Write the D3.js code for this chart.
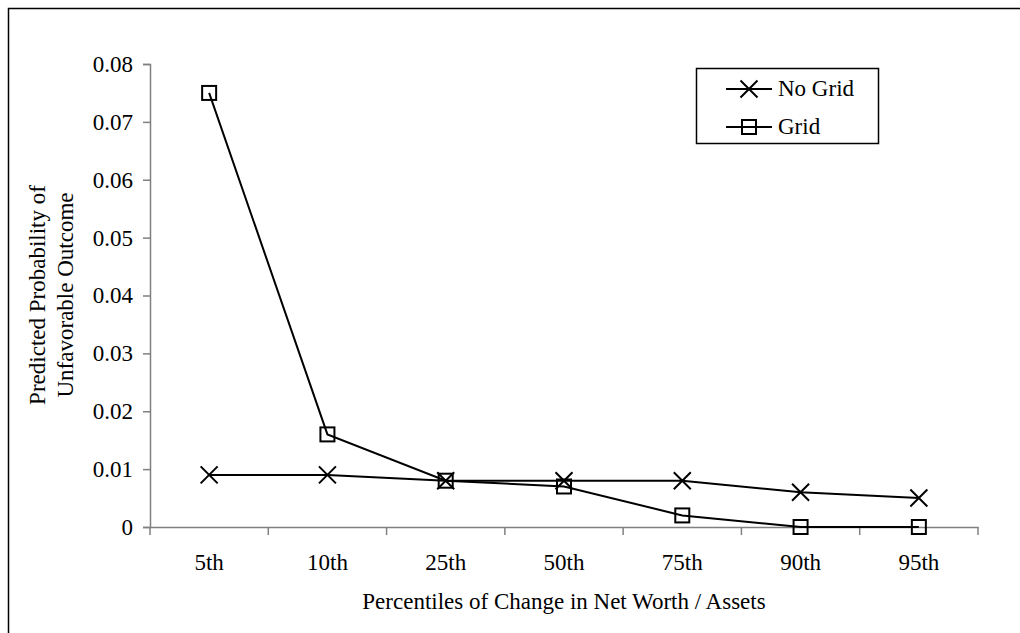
<!DOCTYPE html>
<html><head><meta charset="utf-8">
<script src="https://cdn.jsdelivr.net/npm/d3@7"></script>
<style>
html,body{margin:0;padding:0;background:#fff;}
svg{display:block;}
svg text{font-family:"Liberation Serif","Times New Roman",serif !important;}
</style></head>
<body>
<svg id="chart" width="1020" height="633"></svg>
<script>
const categories = ["5th","10th","25th","50th","75th","90th","95th"];
const noGrid = [0.009,0.009,0.008,0.008,0.008,0.006,0.005];
const grid = [0.075,0.016,0.008,0.007,0.002,0,0];
const yTicks = [0,0.01,0.02,0.03,0.04,0.05,0.06,0.07,0.08];
const seriesNames = ["No Grid","Grid"];

(function(){
const svg = d3.select("#chart");
const pLeft=150, pRight=978, pTop=64, pBottom=527;
const fs = 23;
const FF = "Liberation Serif";

// outer border (top and left visible)
svg.append("rect").attr("x",8.5).attr("y",8.5).attr("width",1100).attr("height",1100)
  .attr("fill","none").attr("stroke","#000").attr("stroke-width",1.5);

const x = d3.scaleBand().domain(categories).range([pLeft,pRight]).padding(0);
const y = d3.scaleLinear().domain([0,0.08]).range([pBottom,pTop]);

const axisColor="#808080";
// y axis
const ya = svg.append("g").attr("transform",`translate(${pLeft},0)`)
  .call(d3.axisLeft(y).tickValues(yTicks).tickSize(7).tickPadding(10)
    .tickFormat(d=> d===0 ? "0" : d3.format(".2f")(d)));
ya.select(".domain").attr("stroke",axisColor).attr("stroke-width",1.5);
ya.selectAll(".tick line").attr("stroke",axisColor).attr("stroke-width",1.5);
ya.selectAll("text").attr("font-family",FF).attr("font-size",fs).attr("fill","#000");

// x axis
const xa = svg.append("g").attr("transform",`translate(0,${pBottom})`)
  .call(d3.axisBottom(x).tickSize(0).tickPadding(27));
xa.select(".domain").attr("stroke",axisColor).attr("stroke-width",1.5);
xa.selectAll("text").attr("font-family",FF).attr("font-size",fs).attr("fill","#000");
// boundary ticks
const bounds = categories.map(c=>x(c)).concat([x(categories[categories.length-1])+x.bandwidth()]);
xa.selectAll(".btick").data(bounds).enter().append("line")
  .attr("x1",d=>d).attr("x2",d=>d).attr("y1",0).attr("y2",8)
  .attr("stroke",axisColor).attr("stroke-width",1.5);

const cx = c => x(c)+x.bandwidth()/2;
const line = d3.line().x((d,i)=>cx(categories[i])).y(d=>y(d));

function drawX(g, px, py, s){
  g.append("path").attr("d",`M${px-s},${py-s}L${px+s},${py+s}M${px-s},${py+s}L${px+s},${py-s}`)
   .attr("stroke","#000").attr("stroke-width",2).attr("fill","none");
}
function drawSq(g, px, py, s){
  g.append("rect").attr("x",px-s).attr("y",py-s).attr("width",2*s).attr("height",2*s)
   .attr("fill","none").attr("stroke","#000").attr("stroke-width",2);
}

// series lines
const sg = svg.append("g");
sg.append("path").datum(noGrid).attr("d",line).attr("fill","none").attr("stroke","#000").attr("stroke-width",2);
sg.append("path").datum(grid).attr("d",line).attr("fill","none").attr("stroke","#000").attr("stroke-width",2);
noGrid.forEach((v,i)=>drawX(sg,cx(categories[i]),y(v),8.5));
grid.forEach((v,i)=>drawSq(sg,cx(categories[i]),y(v),7));

// axis titles
svg.append("text").attr("x",564).attr("y",609).attr("text-anchor","middle")
  .attr("font-family",FF).attr("font-size",fs).text("Percentiles of Change in Net Worth / Assets");
const yt = svg.append("text").attr("transform","translate(45,295) rotate(-90)")
  .attr("text-anchor","middle").attr("font-family",FF).attr("font-size",fs);
yt.append("tspan").attr("x",0).attr("y",0).text("Predicted Probability of");
yt.append("tspan").attr("x",0).attr("y",28).text("Unfavorable Outcome");

// legend
const lg = svg.append("g");
lg.append("rect").attr("x",696.5).attr("y",68.5).attr("width",182).attr("height",75)
  .attr("fill","#fff").attr("stroke","#000").attr("stroke-width",1.5);
const rows=[89,127];
seriesNames.forEach((n,i)=>{
  lg.append("line").attr("x1",726).attr("x2",772).attr("y1",rows[i]).attr("y2",rows[i])
    .attr("stroke","#000").attr("stroke-width",2);
  if(i===0) drawX(lg,749,rows[i],8.5); else drawSq(lg,749,rows[i],7);
  lg.append("text").attr("x",778).attr("y",rows[i]+7).attr("font-family",FF).attr("font-size",fs).text(n);
});
})();
</script>
</body></html>
